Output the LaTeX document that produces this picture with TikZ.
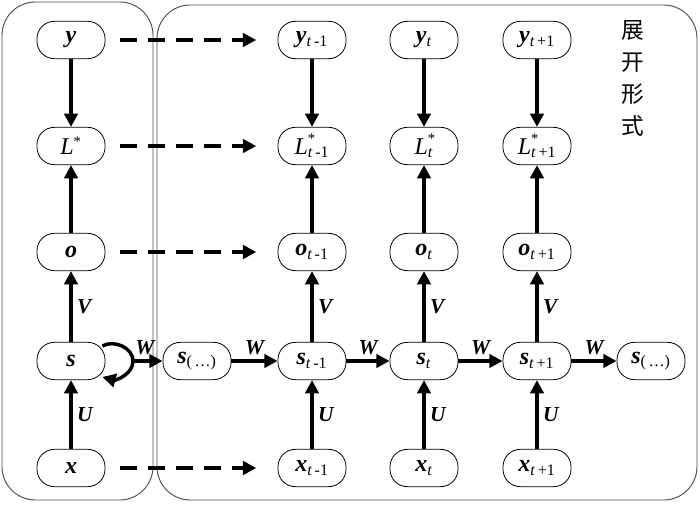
\documentclass[tikz,border=0pt]{standalone}
\usepackage{fontspec}
\setmainfont{Liberation Serif}
\newfontfamily\cjk{Noto Sans CJK SC}
\usetikzlibrary{positioning,calc,arrows.meta}

\newcommand{\bv}[1]{\textbf{\textit{#1}}}
\newcommand{\sbs}[1]{\textsubscript{\fontsize{12}{13}\selectfont #1}}
\newcommand{\sps}[1]{\textsuperscript{\fontsize{11}{12}\selectfont #1}}

\tikzset{
  unit/.style={draw, line width=0.6pt, rounded corners=13pt, minimum width=51pt, minimum height=28pt, inner sep=0pt, font=\fontsize{18}{20}\selectfont},
  flow/.style={line width=2.6pt, -{Triangle[length=10pt,width=10pt]}},
  copy/.style={flow, dash pattern=on 13pt off 8pt, shorten <=11pt, shorten >=16pt},
  frame/.style={draw=black!70, line width=0.7pt, rounded corners=25pt},
  wt/.style={font=\fontsize{16}{18}\selectfont\bfseries\itshape}
}

\begin{document}
\begin{tikzpicture}[x=0.75pt, y=0.75pt]
  \useasboundingbox (0,0) rectangle (700,504);

  % frames
  \draw[frame] (2,4) rectangle (153,502);
  \draw[frame] (157,4) rectangle (697,499);
  \node[font=\cjk\fontsize{17}{24}\selectfont, align=center] (title) at (633,426) {展\\开\\形\\式};

  % folded form
  \node[unit] (y0) at (71,464) {\bv{y}};
  \node[unit] (L0) at (71,358) {\textit{L}\sps{*}};
  \node[unit] (o0) at (71,252) {\bv{o}};
  \node[unit] (s0) at (71,143) {\bv{s}};
  \node[unit] (x0) at (71,36) {\bv{x}};

  % unfolded form
  \node[unit] (y1) at (312,464) {\bv{y}\sbs{\textit{t}\,-1}};
  \node[unit] (L1) at (312,358) {\textit{L}\rlap{\raisebox{2pt}{\sps{*}}}\sbs{\textit{t}\,-1}};
  \node[unit] (o1) at (312,252) {\bv{o}\sbs{\textit{t}\,-1}};
  \node[unit] (s1) at (312,143) {\bv{s}\sbs{\textit{t}\,-1}};
  \node[unit] (x1) at (312,36) {\bv{x}\sbs{\textit{t}\,-1}};

  \node[unit] (y2) at (424,464) {\bv{y}\sbs{\textit{t}}};
  \node[unit] (L2) at (424,358) {\textit{L}\rlap{\raisebox{2pt}{\sps{*}}}\sbs{\textit{t}}};
  \node[unit] (o2) at (424,252) {\bv{o}\sbs{\textit{t}}};
  \node[unit] (s2) at (424,143) {\bv{s}\sbs{\textit{t}}};
  \node[unit] (x2) at (424,36) {\bv{x}\sbs{\textit{t}}};

  \node[unit] (y3) at (537,464) {\bv{y}\sbs{\textit{t}\,+1}};
  \node[unit] (L3) at (537,358) {\textit{L}\rlap{\raisebox{2pt}{\sps{*}}}\sbs{\textit{t}\,+1}};
  \node[unit] (o3) at (537,252) {\bv{o}\sbs{\textit{t}\,+1}};
  \node[unit] (s3) at (537,143) {\bv{s}\sbs{\textit{t}\,+1}};
  \node[unit] (x3) at (537,36) {\bv{x}\sbs{\textit{t}\,+1}};

  \node[unit] (sd1) at (197,143) {\bv{s}\sbs{(\,\dots)}};
  \node[unit] (sd2) at (651,143) {\bv{s}\sbs{(\,\dots)}};

  % vertical links
  \draw[flow] (y0) -- (L0);
  \draw[flow] (o0) -- (L0);
  \draw[flow] (s0) -- node[wt, right]{V} (o0);
  \draw[flow] (x0) -- node[wt, right]{U} (s0);
  \draw[flow] (y1) -- (L1);
  \draw[flow] (o1) -- (L1);
  \draw[flow] (s1) -- node[wt, right]{V} (o1);
  \draw[flow] (x1) -- node[wt, right]{U} (s1);
  \draw[flow] (y2) -- (L2);
  \draw[flow] (o2) -- (L2);
  \draw[flow] (s2) -- node[wt, right]{V} (o2);
  \draw[flow] (x2) -- node[wt, right]{U} (s2);
  \draw[flow] (y3) -- (L3);
  \draw[flow] (o3) -- (L3);
  \draw[flow] (s3) -- node[wt, right]{V} (o3);
  \draw[flow] (x3) -- node[wt, right]{U} (s3);

  % recurrence
  \coordinate (turn) at (133,143);
  \draw[line width=2.6pt] ($(s0.east)+(-3,15)$) to[out=30,in=90] (turn);
  \draw[flow] (turn) to[out=-90,in=-15] ($(s0.east)+(-3,-16)$);
  \draw[flow] (turn) -- node[wt, above, pos=0.4]{W} (sd1);
  \draw[flow] (sd1) -- node[wt, above]{W} (s1);
  \draw[flow] (s1) -- node[wt, above]{W} (s2);
  \draw[flow] (s2) -- node[wt, above]{W} (s3);
  \draw[flow] (s3) -- node[wt, above]{W} (sd2);

  % unfolding
  \draw[copy] (y0) -- (y1);
  \draw[copy] (L0) -- (L1);
  \draw[copy] (o0) -- (o1);
  \draw[copy] (x0) -- (x1);
\end{tikzpicture}
\end{document}
